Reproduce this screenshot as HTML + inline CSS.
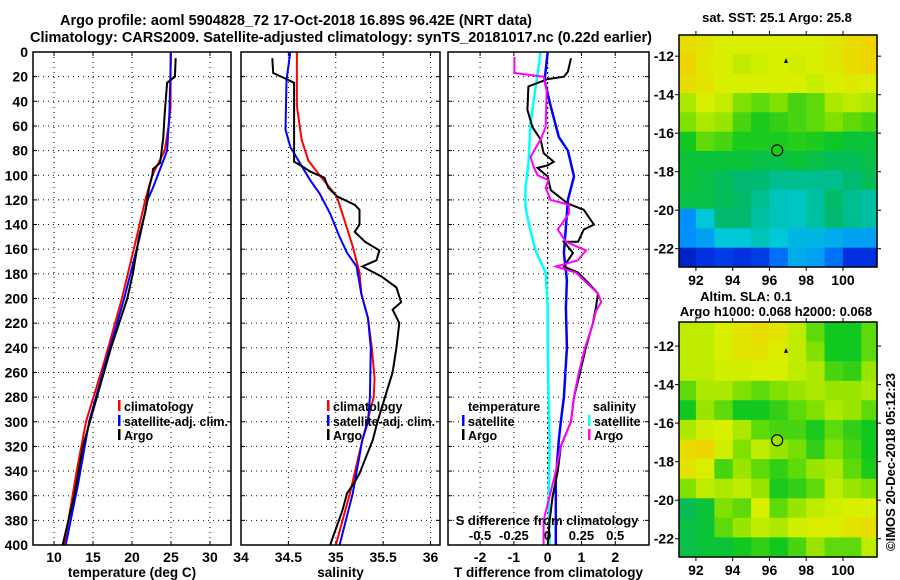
<!DOCTYPE html>
<html><head><meta charset="utf-8"><style>
html,body{margin:0;padding:0;background:#fff;}
svg{display:block;font-family:"Liberation Sans",sans-serif;font-weight:bold;}
</style></head><body>
<svg id="c" width="900" height="580" viewBox="0 0 900 580" xmlns="http://www.w3.org/2000/svg">
<rect width="900" height="580" fill="#fff"/>
<text x="296" y="25" font-size="14.5" text-anchor="middle" textLength="472" lengthAdjust="spacingAndGlyphs">Argo profile: aoml 5904828_72 17-Oct-2018 16.89S 96.42E (NRT data)</text>
<text x="341" y="42" font-size="14.5" text-anchor="middle" textLength="622" lengthAdjust="spacingAndGlyphs">Climatology: CARS2009. Satellite-adjusted climatology: synTS_20181017.nc (0.22d earlier)</text>
<g id="g"></g>
</svg>
<script>
// ---------- data ----------
const depthTicks = [0,20,40,60,80,100,120,140,160,180,200,220,240,260,280,300,320,340,360,380,400];
// temperature panel
const tArgoD = [5,20,25,50,70,90,95,100,110,130,150,180,200,240,280,320,360,400];
const tArgoV = [25.6,25.5,24.5,24.2,24.0,23.6,22.7,22.6,22.2,21.7,20.9,20.1,19.4,17.3,15.5,13.7,12.6,11.1];
const tClimD = [0,45,60,80,100,120,150,200,250,300,340,400];
const tClimV = [24.95,24.95,24.7,24.2,22.6,21.7,20.6,18.7,16.5,14.1,12.9,11.3];
const tSatD = [0,50,80,100,110,120,150,200,250,300,350,400];
const tSatV = [25.0,24.8,24.5,23.3,22.7,22.0,21.0,19.0,16.7,14.5,13.1,11.5];
const tTicks = [10,15,20,25,30];
// salinity panel
const sArgoD = [5,17,22,25,89,93,97,102,110,117,124,128,140,146,154,161,169,174,182,191,203,209,220,240,260,280,300,315,342,349,358,372,385,400];
const sArgoV = [34.33,34.34,34.48,34.56,34.56,34.65,34.73,34.88,34.92,35.01,35.20,35.25,35.25,35.20,35.31,35.46,35.43,35.28,35.48,35.64,35.69,35.60,35.67,35.64,35.60,35.52,35.44,35.39,35.25,35.20,35.12,35.07,35.01,34.94];
const sClimD = [0,44,71,88,100,117,136,158,179,196,216,240,265,280,315,358,400];
const sClimV = [34.59,34.59,34.64,34.71,34.83,35.01,35.09,35.18,35.25,35.27,35.34,35.38,35.41,35.40,35.28,35.15,35.00];
const sSatD = [0,23,63,77,90,104,115,131,150,163,174,196,216,240,280,300,315,358,400];
const sSatV = [34.52,34.48,34.47,34.52,34.62,34.73,34.83,34.94,35.04,35.12,35.22,35.27,35.34,35.37,35.36,35.34,35.28,35.18,35.04];
const sTicks = [34,34.5,35,35.5,36];
const sTickLabels = ["34","34.5","35","35.5","36"];
// difference panel
const dTSatD = [0,23,44,69,80,101,120,142,163,185,207,240,280,300,315,347,400];
const dTSatV = [0,-0.09,0.09,0.33,0.6,0.78,0.6,0.54,0.48,0.57,0.54,0.57,0.48,0.39,0.33,0.24,0.24];
const dTArgoD = [5,16,20,22,28,47,61,71,82,89,92,94,101,112,123,128,140,144,154,154,163,174,179,187,196,207,220,240,260,280,300,320,340,360,380,400];
const dTArgoV = [0.69,0.6,0.48,0,-0.57,-0.6,-0.45,-0.21,-0.12,0.18,0,-0.3,0,0.09,0.6,1.07,1.37,1.07,0.9,0.48,0.75,0.48,0.9,1.19,1.49,1.43,1.34,1.13,0.96,0.78,0.69,0.39,0.30,0.15,0.06,0];
const dSArgoD = [4,17,20,31,61,71,85,93,100,104,110,120,124,131,144,154,161,169,174,179,196,203,210,220,240,260,280,300,320,340,380,400];
const dSArgoV = [-0.246,-0.246,-0.03,-0.007,-0.015,-0.052,-0.127,-0.104,-0.075,0.007,-0.015,0.022,0.157,0.157,0.075,0.134,0.284,0.224,0.06,0.209,0.373,0.396,0.358,0.336,0.276,0.231,0.194,0.172,0.097,0.06,-0.03,-0.03];
const dSSatD = [0,23,58,90,110,126,142,161,179,207,240,280,320,360,400];
const dSSatV = [-0.052,-0.082,-0.127,-0.142,-0.164,-0.164,-0.134,-0.09,-0.015,0,0,0.007,0.015,0.007,0.015];
const dTTicks = [-2,-1,0,1,2];
const dSTicks = [-0.5,-0.25,0,0.25,0.5];
const dSTickLabels = ["-0.5","-0.25","0","0.25","0.5"];
// maps (colour index 0..1 per 1-degree cell, rows north->south, cols 91..102E)
const sstGrid = [
[0.9,0.88,0.85,0.85,0.85,0.85,0.85,0.85,0.87,0.9,0.92],
[0.92,0.87,0.85,0.82,0.84,0.85,0.84,0.85,0.87,0.9,0.92],
[0.9,0.88,0.85,0.85,0.85,0.85,0.85,0.83,0.85,0.87,0.85],
[0.8,0.85,0.83,0.75,0.72,0.75,0.7,0.72,0.8,0.82,0.8],
[0.75,0.8,0.78,0.7,0.66,0.68,0.7,0.72,0.75,0.72,0.7],
[0.65,0.72,0.7,0.66,0.66,0.66,0.67,0.66,0.64,0.62,0.62],
[0.62,0.62,0.62,0.62,0.6,0.6,0.62,0.6,0.58,0.58,0.6],
[0.62,0.6,0.58,0.55,0.55,0.52,0.52,0.52,0.52,0.55,0.58],
[0.6,0.6,0.58,0.56,0.52,0.48,0.47,0.5,0.56,0.52,0.5],
[0.35,0.45,0.55,0.55,0.5,0.48,0.47,0.5,0.55,0.52,0.5],
[0.35,0.38,0.45,0.45,0.48,0.45,0.42,0.42,0.4,0.38,0.38],
[0.15,0.2,0.22,0.2,0.22,0.3,0.4,0.38,0.3,0.2,0.2]];
const slaGrid = [
[0.82,0.82,0.85,0.88,0.9,0.88,0.82,0.72,0.65,0.65,0.72],
[0.82,0.82,0.85,0.88,0.88,0.86,0.82,0.75,0.65,0.65,0.72],
[0.82,0.82,0.84,0.84,0.85,0.85,0.82,0.8,0.7,0.68,0.78],
[0.72,0.8,0.8,0.75,0.72,0.75,0.78,0.8,0.78,0.78,0.8],
[0.65,0.78,0.72,0.65,0.65,0.68,0.72,0.75,0.8,0.78,0.72],
[0.8,0.84,0.85,0.8,0.72,0.7,0.7,0.66,0.72,0.68,0.65],
[0.9,0.92,0.84,0.75,0.82,0.78,0.74,0.68,0.75,0.7,0.65],
[0.88,0.85,0.7,0.78,0.72,0.68,0.72,0.78,0.8,0.72,0.66],
[0.75,0.82,0.8,0.82,0.78,0.66,0.68,0.72,0.82,0.78,0.75],
[0.58,0.62,0.75,0.72,0.85,0.72,0.78,0.82,0.84,0.85,0.85],
[0.6,0.62,0.72,0.78,0.82,0.8,0.84,0.86,0.85,0.88,0.9],
[0.6,0.62,0.62,0.65,0.68,0.65,0.7,0.78,0.72,0.72,0.82]];
const lonTicks = [92,94,96,98,100];
const latTicks = [-12,-14,-16,-18,-20,-22];
const argoLon = 96.42, argoLat = -16.89;

// ---------- drawing ----------
const NS = "http://www.w3.org/2000/svg";
const G = document.getElementById('g');
function mk(tag, attrs, parent){ const e=document.createElementNS(NS,tag); for(const k in attrs) e.setAttribute(k,attrs[k]); (parent||G).appendChild(e); return e; }
function txt(x,y,s,size,anchor,parent){ const t=mk('text',{x:x,y:y,'font-size':size,'text-anchor':anchor||'middle'},parent); t.textContent=s; return t; }
const Y0=52, Y1=545;
function yD(d){ return Y0 + d*(Y1-Y0)/400; }
function lin(d0,d1,r0,r1){ return v => r0 + (v-d0)*(r1-r0)/(d1-d0); }

function panel(name,x0,x1,xs,ticks,tickLabels,title){
  const g=mk('g',{});
  
  
  const grid=mk('g',{stroke:'#000','stroke-width':1,'stroke-dasharray':'1,4'},g);
  depthTicks.forEach(d=>{ if(d>0&&d<400) mk('line',{x1:x0,x2:x1,y1:yD(d),y2:yD(d)},grid); });
  ticks.forEach(t=>{ const x=xs(t); if(x>x0+2&&x<x1-2) mk('line',{x1:x,x2:x,y1:Y0,y2:Y1},grid); });
  const tk=mk('g',{stroke:'#000','stroke-width':1},g);
  depthTicks.forEach(d=>{ mk('line',{x1:x0,x2:x0+4,y1:yD(d),y2:yD(d)},tk); mk('line',{x1:x1-4,x2:x1,y1:yD(d),y2:yD(d)},tk); });
  ticks.forEach(t=>{ const x=xs(t); mk('line',{x1:x,x2:x,y1:Y1,y2:Y1-4},tk); mk('line',{x1:x,x2:x,y1:Y0,y2:Y0+4},tk); });
  const lg=mk('g',{},g);
  
  
  ticks.forEach((t,i)=>txt(xs(t),562,tickLabels[i],14,'middle',lg));
  const tt=txt((x0+x1)/2,577,title,13.5,'middle',g);
  
  
  return g;
}
function series(name,g,ds,vs,xs,color,w){
  const pts=ds.map((d,i)=>xs(vs[i]).toFixed(1)+','+yD(d).toFixed(1)).join(' ');
  const p=mk('polyline',{points:pts,fill:'none',stroke:color,'stroke-width':w||2,'stroke-linejoin':'miter'},g);
  
  
}
function frame(g,x0,x1){ mk('rect',{x:x0,y:Y0,width:x1-x0,height:Y1-Y0,fill:'none',stroke:'#000','stroke-width':1.5},g); }
function legendItem(g,x,y,color,label,len){
  if(color){ mk('rect',{x:x-5,y:y-6,width:2.5,height:11,fill:color},g); }
  const t=txt(x+1,y+5,label,12.5,'start',g);
  if(len){ t.setAttribute('textLength',len); t.setAttribute('lengthAdjust','spacingAndGlyphs'); }
}

// y-axis labels
const ya=mk('g',{});


depthTicks.forEach(d=>txt(28,yD(d)+5,String(d),14,'end',ya));

// panel 1 temperature
const xT=lin(7.3,32.7,33,231);
const p1=panel('temperature-panel',33,231,xT,tTicks,tTicks.map(String),'temperature (deg C)');
series('temp-climatology-line',p1,tClimD,tClimV,xT,'#ff0000',2);
series('temp-satellite-line',p1,tSatD,tSatV,xT,'#0000ff',2);
series('temp-argo-line',p1,tArgoD,tArgoV,xT,'#000000',2);
frame(p1,33,231);
const l1=mk('g',{},p1);  
legendItem(l1,123,406,'#ff0000','climatology');
legendItem(l1,123,421,'#0000ff','satellite-adj. clim.',104);
legendItem(l1,123,435,'#000000','Argo');

// panel 2 salinity
const xS=lin(34,36.1,241,440);
const p2=panel('salinity-panel',241,440,xS,sTicks,sTickLabels,'salinity');
series('sal-climatology-line',p2,sClimD,sClimV,xS,'#ff0000',2);
series('sal-satellite-line',p2,sSatD,sSatV,xS,'#0000ff',2);
series('sal-argo-line',p2,sArgoD,sArgoV,xS,'#000000',2);
frame(p2,241,440);
const l2=mk('g',{},p2);  
legendItem(l2,332,406,'#ff0000','climatology');
legendItem(l2,332,421,'#0000ff','satellite-adj. clim.',102);
legendItem(l2,332,435,'#000000','Argo');

// panel 3 differences
const xD=lin(-2.95,3.0,448,649);
const xDS=v=>xD(v*4);
const p3=panel('difference-panel',448,649,xD,dTTicks,dTTicks.map(String),'T difference from climatology');
mk('line',{x1:xD(0),x2:xD(0),y1:Y0,y2:Y1,stroke:'#000','stroke-width':1,'stroke-dasharray':'2,3'},p3);
series('sdiff-satellite-line',p3,dSSatD,dSSatV,xDS,'#00ffff',2.5);
series('tdiff-satellite-line',p3,dTSatD,dTSatV,xD,'#0000ff',2.5);
series('tdiff-argo-line',p3,dTArgoD,dTArgoV,xD,'#000000',2);
series('sdiff-argo-line',p3,dSArgoD,dSArgoV,xDS,'#ff00ff',2);
frame(p3,448,649);
const sl=mk('g',{},p3);  
txt(547,525,'S difference from climatology',13,'middle',sl);
dSTicks.forEach((t,i)=>txt(xDS(t),540,dSTickLabels[i],13,'middle',sl));
const l3=mk('g',{},p3);  
txt(468,411,'temperature',12.5,'start',l3);
legendItem(l3,467,421,'#0000ff','satellite');
legendItem(l3,467,435,'#000000','Argo');
txt(593,411,'salinity',12.5,'start',l3);
legendItem(l3,593,421,'#00ffff','satellite');
legendItem(l3,593,435,'#ff00ff','Argo');

// ---------- maps ----------
const stops=[[0,[0,0,128]],[0.2,[0,48,224]],[0.35,[0,144,255]],[0.45,[0,200,216]],[0.55,[0,184,112]],[0.65,[16,200,32]],[0.75,[128,224,0]],[0.85,[216,240,0]],[0.95,[248,200,0]],[1,[248,160,0]]];
function cmap(v){ for(let i=1;i<stops.length;i++){ if(v<=stops[i][0]){ const a=stops[i-1],b=stops[i],f=(v-a[0])/(b[0]-a[0]); return 'rgb('+a[1].map((c,j)=>Math.round(c+(b[1][j]-c)*f)).join(',')+')'; } } return 'rgb(248,160,0)'; }
function drawMap(name,grid,x0,x1,yTop,yBot,latTop,latBot,lon0,lon1,titles){
  const g=mk('g',{});  
  const xs=lin(lon0,lon1,x0,x1), ys=lin(latTop,latBot,yTop,yBot);
  const cg=mk('g',{},g);
  const rows=grid.length, rh=(latTop-latBot)/rows;
  grid.forEach((row,r)=>row.forEach((v,c)=>{
    const la=latTop-r*rh, lo=91+c;
    const xa=Math.max(x0,xs(lo)), xb=Math.min(x1,xs(lo+1));
    const cell=mk('rect',{x:xa.toFixed(1),y:ys(la).toFixed(1),width:(xb-xa+0.6).toFixed(1),height:(ys(la-rh)-ys(la)+0.6).toFixed(1),fill:cmap(v)},cg);
    
    
  }));
  mk('rect',{x:x0,y:yTop,width:x1-x0,height:yBot-yTop,fill:'none',stroke:'#000','stroke-width':1.5},g);
  const tk=mk('g',{stroke:'#000','stroke-width':1},g);
  lonTicks.forEach(l=>{ const x=xs(l); mk('line',{x1:x,x2:x,y1:yBot,y2:yBot+4},tk); mk('line',{x1:x,x2:x,y1:yTop,y2:yTop-4},tk); txt(x,yBot+18,String(l),14,'middle',g); });
  latTicks.forEach(l=>{ const y=ys(l); mk('line',{x1:x0-4,x2:x0,y1:y,y2:y},tk); mk('line',{x1:x1,x2:x1+4,y1:y,y2:y},tk); txt(x0-5,y+5,String(l),14,'end',g); });
  const m=mk('circle',{cx:xs(argoLon),cy:ys(argoLat),r:5.5,fill:cmap(grid[Math.floor((latTop-argoLat)/rh)][Math.floor(argoLon-91)]),stroke:'#000','stroke-width':1.2},g);
  
  
  mk('polygon',{points:(xs(96.9)-2)+','+(ys(-12.25)+2)+' '+(xs(96.9)+2)+','+(ys(-12.25)+2)+' '+xs(96.9)+','+(ys(-12.25)-3),fill:'#000'},g);
  titles.forEach(t=>{ const e=txt(t[0],t[1],t[2],13,'middle',g);   });
}
drawMap('sst-map',sstGrid,679,877,35,267,-10.9,-22.95,91.08,101.85,[[777,22,'sat. SST: 25.1 Argo: 25.8']]);
drawMap('sla-map',slaGrid,679,877,322,557,-10.75,-22.95,91.08,101.85,[[746,301,'Altim. SLA: 0.1'],[776,316,'Argo h1000: 0.068 h2000: 0.068']]);
const cr=txt(0,0,'©IMOS 20-Dec-2018 05:12:23',13,'middle');
cr.setAttribute('transform','translate(895,462) rotate(-90)');


</script>
</body></html>
